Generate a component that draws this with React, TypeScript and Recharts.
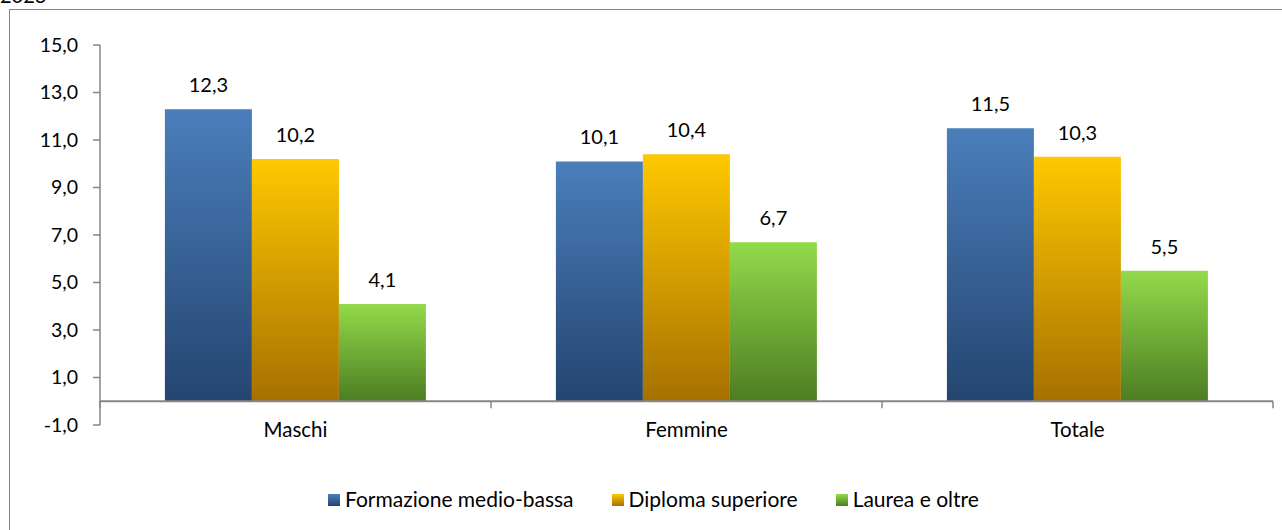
import React from 'react';
import { BarChart, Bar, XAxis, YAxis, ReferenceLine, LabelList, Legend } from 'recharts';

const title = '2023';
const categories = ['Maschi', 'Femmine', 'Totale'];
const formazioneMedioBassa = [12.3, 10.1, 11.5];
const diplomaSuperiore = [10.2, 10.4, 10.3];
const laureaEOltre = [4.1, 6.7, 5.5];
const seriesNames = ['Formazione medio-bassa', 'Diploma superiore', 'Laurea e oltre'];
const yTicks = [-1, 1, 3, 5, 7, 9, 11, 13, 15];

const Y_MIN = -1;
const Y_MAX = 15;
const W = 1282;
const H = 530;
const MARGIN = { top: 45, right: 9, left: 40, bottom: 75 };
const Y_AXIS_W = 60;
const X_AXIS_H = 30;
const PLOT_W = W - MARGIN.left - MARGIN.right - Y_AXIS_W;
const PLOT_H = H - MARGIN.top - MARGIN.bottom - X_AXIS_H;
const AXIS_COLOR = '#868686';
const FONT = 'Lato, "Liberation Sans", sans-serif';

const gradients = [
  { id: 'gBlue', top: '#4a7ebb', bottom: '#244570' },
  { id: 'gYellow', top: '#ffc800', bottom: '#a67000' },
  { id: 'gGreen', top: '#93da4a', bottom: '#4d7d22' },
];

const data = categories.map((c, i) => ({
  name: c,
  s0: formazioneMedioBassa[i],
  s1: diplomaSuperiore[i],
  s2: laureaEOltre[i],
}));

const fmt = (v: number) => v.toFixed(1).replace('.', ',');

const XTick = (props: any) => {
  const { x, y, payload, index } = props;
  const band = PLOT_W / categories.length;
  const zeroY = y - (PLOT_H * (0 - Y_MIN)) / (Y_MAX - Y_MIN);
  const left = x - band / 2;
  const right = x + band / 2;
  return (
    <g>
      <line x1={left} x2={left} y1={zeroY} y2={zeroY + 7} stroke={AXIS_COLOR} strokeWidth={1.5} />
      {index === categories.length - 1 && (
        <line x1={right} x2={right} y1={zeroY} y2={zeroY + 7} stroke={AXIS_COLOR} strokeWidth={1.5} />
      )}
      <text x={x} y={y + 12} textAnchor="middle" fill="#000" fontSize={20.5} fontFamily={FONT}>
        {payload.value}
      </text>
    </g>
  );
};

const LegendContent = () => (
  <div style={{ display: 'flex', alignItems: 'center', fontFamily: FONT, fontSize: 21, lineHeight: '24px', color: '#000', whiteSpace: 'nowrap' }}>
    {seriesNames.map((n, i) => (
      <div key={n} style={{ display: 'flex', alignItems: 'center', marginRight: i < seriesNames.length - 1 ? 38 : 0 }}>
        <span
          style={{
            display: 'inline-block',
            width: 12,
            height: 12,
            marginRight: 5,
            marginTop: 2,
            background: `linear-gradient(${gradients[i].top}, ${gradients[i].bottom})`,
          }}
        />
        <span>{n}</span>
      </div>
    ))}
  </div>
);

export default function App() {
  const keys = ['s0', 's1', 's2'];
  return (
    <div style={{ position: 'fixed', left: 0, top: 0, width: W, height: H, overflow: 'hidden', background: '#fff', fontFamily: FONT }}>
      <div style={{ position: 'absolute', left: 0, top: -17, fontSize: 20, fontFamily: FONT, color: '#000' }}>{title}</div>
      <div style={{ position: 'absolute', left: 9, top: 9, width: 1400, height: 700, border: `1.5px solid ${AXIS_COLOR}` }} />
      <div style={{ position: 'absolute', left: 0, top: 0 }}>
        <BarChart width={W} height={H} data={data} margin={MARGIN} barCategoryGap="16.6%" barGap={0}>
          <defs>
            {gradients.map((g) => (
              <linearGradient key={g.id} id={g.id} x1="0" y1="0" x2="0" y2="1">
                <stop offset="0%" stopColor={g.top} />
                <stop offset="100%" stopColor={g.bottom} />
              </linearGradient>
            ))}
          </defs>
          <XAxis
            dataKey="name"
            height={X_AXIS_H}
            axisLine={false}
            tickLine={false}
            tickSize={0}
            tickMargin={0}
            tick={<XTick />}
            interval={0}
          />
          <YAxis
            width={Y_AXIS_W}
            domain={[Y_MIN, Y_MAX]}
            ticks={yTicks}
            interval={0}
            allowDataOverflow
            axisLine={{ stroke: AXIS_COLOR, strokeWidth: 1.5 }}
            tickLine={{ stroke: AXIS_COLOR, strokeWidth: 1.5 }}
            tickSize={7}
            tickMargin={15}
            tick={{ fill: '#000', fontSize: 19.5, fontFamily: FONT }}
            tickFormatter={fmt}
          />
          {keys.map((k, i) => (
            <Bar key={k} dataKey={k} name={seriesNames[i]} fill={`url(#${gradients[i].id})`} isAnimationActive={false}>
              <LabelList dataKey={k} position="top" offset={17} formatter={(v: any) => fmt(Number(v))} fill="#000" fontSize={20} fontFamily={FONT} />
            </Bar>
          ))}
          <ReferenceLine y={0} stroke={AXIS_COLOR} strokeWidth={2} />
          <Legend
            layout="horizontal"
            verticalAlign="middle"
            align="center"
            content={<LegendContent />}
            wrapperStyle={{ left: 328, top: 487, width: 'auto' }}
          />
        </BarChart>
      </div>
    </div>
  );
}
